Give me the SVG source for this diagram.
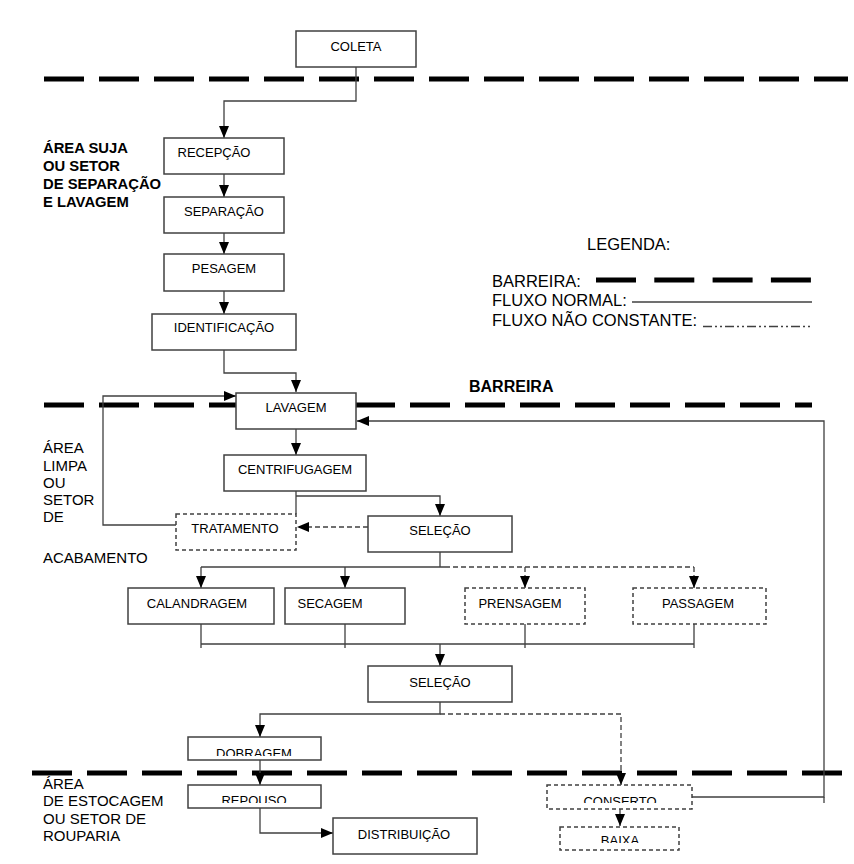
<svg xmlns="http://www.w3.org/2000/svg" width="854" height="864" viewBox="0 0 854 864">
<style>
  text { font-family: "Liberation Sans", Arial, sans-serif; fill: #000; }
  .bt { font-size: 13px; text-anchor: middle; }
  .lbl { font-size: 15px; }
  .lblb { font-size: 14.8px; font-weight: bold; }
  .leg { font-size: 16.5px; }
  .box { fill: #fff; stroke: #404040; stroke-width: 1.5; }
  .dbox { fill: #fff; stroke: #404040; stroke-width: 1.5; stroke-dasharray: 4 3; }
  .ln { fill: none; stroke: #404040; stroke-width: 1.3; }
  .dl { fill: none; stroke: #404040; stroke-width: 1.3; stroke-dasharray: 5 3; }
  .bar { fill: none; stroke: #000; stroke-width: 5; stroke-dasharray: 40 15; }
</style>
<defs>
  <marker id="ah" markerUnits="userSpaceOnUse" markerWidth="12" markerHeight="10" refX="12" refY="5" orient="auto">
    <path d="M0,0 L12,5 L0,10 z" fill="#000"/>
  </marker>
  <clipPath id="cDob"><rect x="189" y="738" width="131" height="18"/></clipPath>
  <clipPath id="cRep"><rect x="189" y="786" width="131" height="17"/></clipPath>
  <clipPath id="cCon"><rect x="548" y="786" width="143" height="17"/></clipPath>
  <clipPath id="cBai"><rect x="561" y="828" width="117" height="15"/></clipPath>
</defs>

<g id="barriers">
  <line class="bar" x1="44" y1="79" x2="848" y2="79"/>
  <line class="bar" x1="44" y1="405" x2="236" y2="405"/>
  <line class="bar" x1="355" y1="405" x2="812" y2="405"/>
  <line class="bar" x1="32" y1="773" x2="844" y2="773"/>
</g>

<g id="labels">
  <text class="lblb" x="43" y="153">ÁREA SUJA</text>
  <text class="lblb" x="43" y="171">OU SETOR</text>
  <text class="lblb" x="43" y="189">DE SEPARAÇÃO</text>
  <text class="lblb" x="43" y="207">E LAVAGEM</text>
  <text x="469" y="392" style="font-size:16px;font-weight:bold">BARREIRA</text>
  <text class="lbl" x="43" y="453">ÁREA</text>
  <text class="lbl" x="43" y="471">LIMPA</text>
  <text class="lbl" x="43" y="488">OU</text>
  <text class="lbl" x="43" y="505">SETOR</text>
  <text class="lbl" x="43" y="522">DE</text>
  <text class="lbl" x="43" y="563">ACABAMENTO</text>
  <text class="lbl" x="43" y="789">ÁREA</text>
  <text class="lbl" x="43" y="806">DE ESTOCAGEM</text>
  <text class="lbl" x="43" y="824">OU SETOR DE</text>
  <text class="lbl" x="43" y="841">ROUPARIA</text>
</g>

<g id="legend">
  <text class="leg" x="587" y="250">LEGENDA:</text>
  <text class="leg" x="492" y="287">BARREIRA:</text>
  <line x1="596" y1="280" x2="811" y2="280" stroke="#000" stroke-width="5" stroke-dasharray="40 18.3"/>
  <text class="leg" x="492" y="306">FLUXO NORMAL:</text>
  <line x1="632" y1="302" x2="812" y2="302" stroke="#404040" stroke-width="1.3"/>
  <text class="leg" x="492" y="326">FLUXO NÃO CONSTANTE:</text>
  <line x1="703" y1="326.5" x2="812" y2="326.5" stroke="#404040" stroke-width="1.6" stroke-dasharray="9 3 2 3 2 3"/>
</g>

<g id="connectors">
  <path class="ln" d="M356,67 V101 H224 V138" marker-end="url(#ah)"/>
  <path class="ln" d="M224,174 V197" marker-end="url(#ah)"/>
  <path class="ln" d="M224,233 V254" marker-end="url(#ah)"/>
  <path class="ln" d="M224,291 V314" marker-end="url(#ah)"/>
  <path class="ln" d="M224,350 V373 H296 V392" marker-end="url(#ah)"/>
  <path class="ln" d="M296,429 V455" marker-end="url(#ah)"/>
  <path class="ln" d="M296,491 V514"/>
  <path class="ln" d="M296,496 H440 V516" marker-end="url(#ah)"/>
  <path class="dl" d="M368,527 H297" marker-end="url(#ah)"/>
  <path class="ln" d="M176,525 H103 V396 H236" marker-end="url(#ah)"/>
  <path class="ln" d="M440,552 V567"/>
  <path class="ln" d="M201,567 H445"/>
  <path class="dl" d="M445,567 H694"/>
  <path class="ln" d="M201,567 V588" marker-end="url(#ah)"/>
  <path class="ln" d="M345,567 V588" marker-end="url(#ah)"/>
  <path class="dl" d="M525,567 V588" marker-end="url(#ah)"/>
  <path class="dl" d="M694,567 V588" marker-end="url(#ah)"/>
  <path class="ln" d="M201,624 V648 M345,624 V648 M525,624 V648 M694,624 V648 M201,644 H694"/>
  <path class="ln" d="M440,644 V666" marker-end="url(#ah)"/>
  <path class="ln" d="M440,702 V714 H260 V737" marker-end="url(#ah)"/>
  <path class="dl" d="M440,714 H621 V785" marker-end="url(#ah)"/>
  <path class="ln" d="M260,760 V785" marker-end="url(#ah)"/>
  <path class="ln" d="M260,808 V833 H333" marker-end="url(#ah)"/>
  <path class="ln" d="M692,797 H824 V421 H357" marker-end="url(#ah)"/>
  <path class="ln" d="M824,797 V803"/>
  <path class="ln" d="M620,802 V826" marker-end="url(#ah)"/>
</g>

<g id="n-coleta"><rect class="box" x="296" y="31" width="120" height="36"/><text class="bt" x="356" y="51">COLETA</text></g>
<g id="n-recepcao"><rect class="box" x="164" y="138" width="120" height="36"/><text class="bt" x="214" y="157">RECEPÇÃO</text></g>
<g id="n-separacao"><rect class="box" x="164" y="197" width="120" height="36"/><text class="bt" x="224" y="216">SEPARAÇÃO</text></g>
<g id="n-pesagem"><rect class="box" x="164" y="254" width="120" height="37"/><text class="bt" x="224" y="273">PESAGEM</text></g>
<g id="n-identificacao"><rect class="box" x="152" y="314" width="144" height="36"/><text class="bt" x="224" y="332">IDENTIFICAÇÃO</text></g>
<g id="n-lavagem"><rect class="box" x="236" y="393" width="120" height="36"/><text class="bt" x="296" y="412">LAVAGEM</text></g>
<g id="n-centrifugagem"><rect class="box" x="224" y="455" width="142" height="36"/><text class="bt" x="295" y="474">CENTRIFUGAGEM</text></g>
<g id="n-tratamento"><rect class="dbox" x="176" y="514" width="120" height="36"/><text class="bt" x="235" y="533">TRATAMENTO</text></g>
<g id="n-selecao1"><rect class="box" x="368" y="516" width="144" height="36"/><text class="bt" x="440" y="535">SELEÇÃO</text></g>
<g id="n-calandragem"><rect class="box" x="128" y="588" width="146" height="36"/><text class="bt" x="197" y="608">CALANDRAGEM</text></g>
<g id="n-secagem"><rect class="box" x="285" y="588" width="120" height="36"/><text class="bt" x="330" y="608">SECAGEM</text></g>
<g id="n-prensagem"><rect class="dbox" x="465" y="588" width="120" height="36"/><text class="bt" x="520" y="608">PRENSAGEM</text></g>
<g id="n-passagem"><rect class="dbox" x="633" y="588" width="133" height="36"/><text class="bt" x="698" y="608">PASSAGEM</text></g>
<g id="n-selecao2"><rect class="box" x="368" y="666" width="144" height="36"/><text class="bt" x="440" y="687">SELEÇÃO</text></g>
<g id="n-dobragem"><rect class="box" x="188" y="737" width="133" height="23"/><text class="bt" x="254" y="757.5" clip-path="url(#cDob)">DOBRAGEM</text></g>
<g id="n-repouso"><rect class="box" x="188" y="785" width="133" height="23"/><text class="bt" x="254" y="804.5" clip-path="url(#cRep)">REPOUSO</text></g>
<g id="n-distribuicao"><rect class="box" x="333" y="818" width="144" height="36"/><text class="bt" x="404" y="839">DISTRIBUIÇÃO</text></g>
<g id="n-conserto"><rect class="dbox" x="547" y="785" width="145" height="24"/><text class="bt" x="620" y="805.5" clip-path="url(#cCon)">CONSERTO</text></g>
<g id="n-baixa"><rect class="dbox" x="560" y="827" width="119" height="23"/><text class="bt" x="620" y="844.5" clip-path="url(#cBai)">BAIXA</text></g>
</svg>
